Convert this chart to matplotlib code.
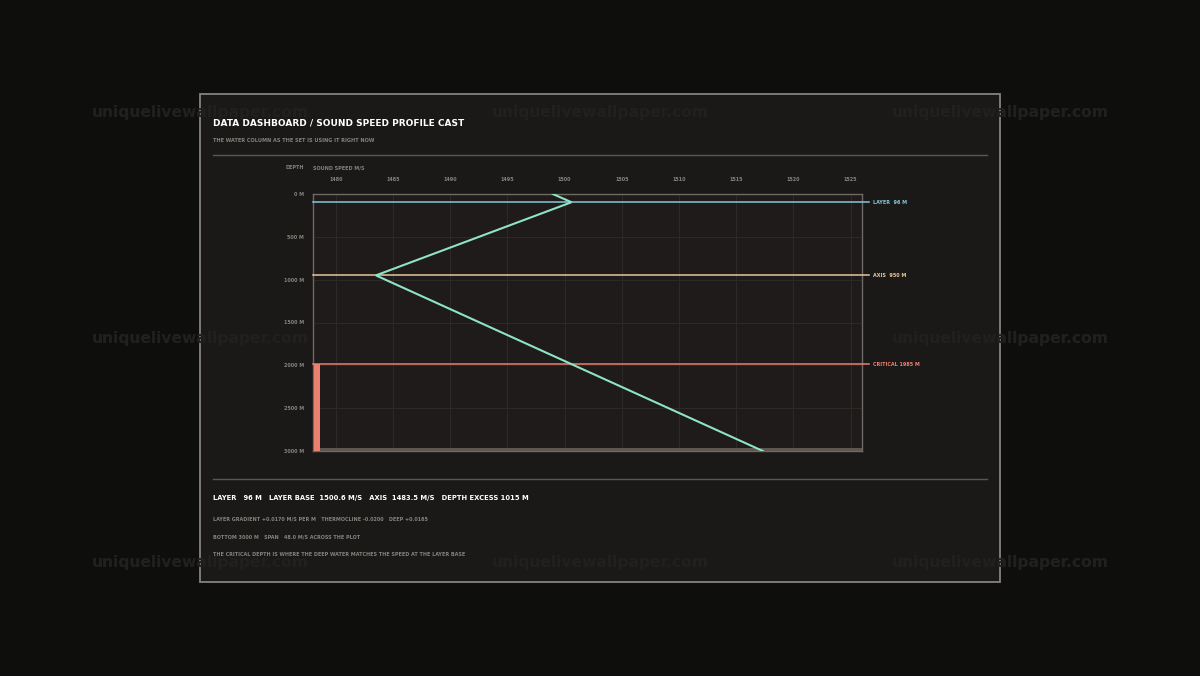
import numpy as np
import matplotlib.pyplot as plt
from matplotlib.patches import Rectangle
from matplotlib.lines import Line2D

# profile data
depths = [0, 96, 950, 3000]
speeds = [1498.97, 1500.6, 1483.5, 1517.33]
x_ticks = [1480, 1485, 1490, 1495, 1500, 1505, 1510, 1515, 1520, 1525]
y_ticks = [0, 500, 1000, 1500, 2000, 2500, 3000]
layer_depth = 96
axis_depth = 950
critical_depth = 1985
bottom_depth = 3000
speed_min, speed_max = 1478, 1526

W, H = 1200, 676
BG = '#0e0e0d'
PANEL = '#1b1918'
PLOT_BG = '#1e1b1a'
GRID = '#2c2927'
TXT = '#85817c'
MINT = '#8fe3c6'
LAYER_C = '#86c6d6'
AXIS_C = '#e6c79a'
CRIT_C = '#ec8070'
SMALL = 3.5

fig = plt.figure(figsize=(12, 6.76), dpi=100, facecolor=BG)

def fx(px):
    return px / W

def fy(py):
    return 1 - py / H

# watermark, faint outside the panel
for wx in [200, 600, 1000]:
    for wy in [113, 338, 563]:
        fig.text(fx(wx), fy(wy), 'uniquelivewallpaper.com', color='#1a1918', fontsize=11.2,
                 fontweight='bold', ha='center', va='center', family='DejaVu Sans', zorder=0)

# dashboard panel
fig.patches.append(Rectangle((fx(200), fy(582)), fx(800), (582 - 94) / H, transform=fig.transFigure,
                             facecolor=PANEL, edgecolor='#85827e', lw=1.3, zorder=1))
for wx in [200, 600, 1000]:
    for wy in [113, 338, 563]:
        fig.text(fx(wx), fy(wy), 'uniquelivewallpaper.com', color='#22201f', fontsize=11.2,
                 fontweight='bold', ha='center', va='center', family='DejaVu Sans', zorder=1.5)

fig.text(fx(213), fy(123), 'DATA DASHBOARD / SOUND SPEED PROFILE CAST', color='white', fontsize=6.5,
         fontweight='heavy', va='center', family='DejaVu Sans', zorder=3)
fig.text(fx(213), fy(141), 'THE WATER COLUMN AS THE SET IS USING IT RIGHT NOW', color=TXT, fontsize=3.6,
         va='center', fontweight='bold', zorder=3)
for sy in [155, 479]:
    fig.lines.append(Line2D([fx(213), fx(987)], [fy(sy), fy(sy)], transform=fig.transFigure,
                            color='#5a5653', lw=1, zorder=3))

fig.text(fx(304), fy(168), 'DEPTH', color=TXT, fontsize=SMALL, ha='right', va='center', fontweight='bold', zorder=3)
fig.text(fx(313), fy(168), 'SOUND SPEED M/S', color=TXT, fontsize=SMALL, va='center', fontweight='bold', zorder=3)

# plot
ax = fig.add_axes([fx(313), fy(451), fx(862 - 313), (451 - 194) / H], zorder=2)
ax.set_facecolor(PLOT_BG)
ax.set_xlim(speed_min, speed_max)
ax.set_ylim(bottom_depth, 0)
ax.xaxis.tick_top()
ax.set_xticks(x_ticks)
ax.set_xticklabels([str(t) for t in x_ticks])
ax.set_yticks(y_ticks)
ax.set_yticklabels([f'{t} M' for t in y_ticks])
ax.tick_params(length=0, colors=TXT, labelsize=SMALL, pad=8.5)
ax.tick_params(axis='y', pad=6.5)
for lab in ax.get_xticklabels() + ax.get_yticklabels():
    lab.set_fontweight('bold')
ax.grid(True, color=GRID, lw=0.8)
for s in ax.spines.values():
    s.set_color('#6e6964')
    s.set_linewidth(1)

ax.axhspan(bottom_depth - 35, bottom_depth, color='#5e554f', lw=0, zorder=2)
ax.fill_betweenx([critical_depth, bottom_depth], speed_min + 0.1, speed_min + 0.65, color=CRIT_C, lw=0, zorder=3)

yt = ax.get_yaxis_transform()
for d, c, lab in [(layer_depth, LAYER_C, f'LAYER  {layer_depth} M'),
                  (axis_depth, AXIS_C, f'AXIS  {axis_depth} M'),
                  (critical_depth, CRIT_C, f'CRITICAL {critical_depth} M')]:
    ax.plot([0, 1.013], [d, d], transform=yt, color=c, lw=1.1, clip_on=False, zorder=4)
    ax.text(1.02, d, lab, transform=yt, color=c, fontsize=SMALL, fontweight='bold', va='center')

ax.plot(speeds, depths, color=MINT, lw=1.5, zorder=5, solid_joinstyle='miter')

# summary lines
fig.text(fx(213), fy(498), 'LAYER   96 M   LAYER BASE  1500.6 M/S   AXIS  1483.5 M/S   DEPTH EXCESS 1015 M',
         color='white', fontsize=4.9, fontweight='heavy', va='center', zorder=3)
fig.text(fx(213), fy(519), 'LAYER GRADIENT +0.0170 M/S PER M   THERMOCLINE -0.0200   DEEP +0.0165',
         color=TXT, fontsize=SMALL, fontweight='bold', va='center', zorder=3)
fig.text(fx(213), fy(537), 'BOTTOM 3000 M   SPAN   48.0 M/S ACROSS THE PLOT',
         color=TXT, fontsize=SMALL, fontweight='bold', va='center', zorder=3)
fig.text(fx(213), fy(554), 'THE CRITICAL DEPTH IS WHERE THE DEEP WATER MATCHES THE SPEED AT THE LAYER BASE',
         color=TXT, fontsize=SMALL, fontweight='bold', va='center', zorder=3)

fig.savefig('out.png', dpi=100, facecolor=BG)
